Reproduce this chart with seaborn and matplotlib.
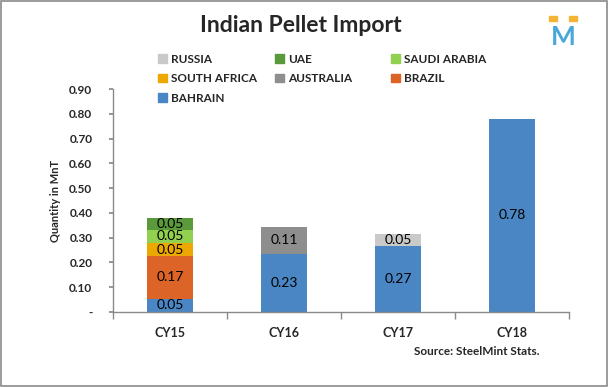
import matplotlib
matplotlib.use("Agg")
import matplotlib.pyplot as plt
import seaborn as sns
import pandas as pd
import numpy as np
from matplotlib.patches import Rectangle

# ---- data ----
years = ["CY15", "CY16", "CY17", "CY18"]
# stacking order bottom -> top
countries = ["BAHRAIN", "BRAZIL", "AUSTRALIA", "SOUTH AFRICA", "SAUDI ARABIA", "UAE", "RUSSIA"]
bahrain = [0.052, 0.234, 0.266, 0.78]
brazil = [0.174, 0.0, 0.0, 0.0]
australia = [0.0, 0.109, 0.0, 0.0]
south_africa = [0.052, 0.0, 0.0, 0.0]
saudi_arabia = [0.054, 0.0, 0.0, 0.0]
uae = [0.048, 0.0, 0.0, 0.0]
russia = [0.0, 0.0, 0.049, 0.0]
series = [bahrain, brazil, australia, south_africa, saudi_arabia, uae, russia]
colors = ["#4A86C4", "#DC6426", "#8E8E8E", "#EDA800", "#92D050", "#5A9A3A", "#C9C9C9"]
legend_order = ["RUSSIA", "UAE", "SAUDI ARABIA", "SOUTH AFRICA", "AUSTRALIA", "BRAZIL", "BAHRAIN"]
yticks = [0, 0.1, 0.2, 0.3, 0.4, 0.5, 0.6, 0.7, 0.8, 0.9]
ytick_labels = ["-", "0.10", "0.20", "0.30", "0.40", "0.50", "0.60", "0.70", "0.80", "0.90"]

sns.set_theme(style="white")
plt.rcParams["font.family"] = ["Lato", "DejaVu Sans"]

W, H = 608, 387
fig = plt.figure(figsize=(6.08, 3.87), dpi=100)
fig.patch.set_facecolor("white")
fig.patches.append(Rectangle((0.0015, 0.0025), 0.997, 0.995, transform=fig.transFigure,
                             fill=False, edgecolor="#8a8a8a", linewidth=1.2))
ax = fig.add_axes([0.186, 0.194, 0.750, 0.576])

vals = np.array(series)
cum = np.cumsum(vals, axis=0)

# draw cumulative totals from top layer down so lower layers overlay
for i in range(len(countries) - 1, -1, -1):
    df = pd.DataFrame({"year": years, "value": cum[i]})
    sns.barplot(data=df, x="year", y="value", color=colors[i], saturation=1,
                width=0.4, ax=ax, linewidth=0, order=years)

# labels
for j, yr in enumerate(years):
    for i in range(len(countries)):
        v = vals[i, j]
        if v > 0:
            ax.text(j, cum[i, j] - v / 2, f"{v:.2f}", ha="center", va="center",
                    fontsize=10, color="black")

ax.set_ylim(0, 0.9)
ax.set_xlim(-0.5, 3.5)
ax.set_yticks(yticks)
ax.set_yticklabels(ytick_labels, fontsize=8.5, fontweight="bold")
ax.set_xticks([0, 1, 2, 3])
ax.set_xticklabels(years, fontsize=9, fontweight="bold")
ax.set_xlabel("")
ax.set_ylabel("Quantity in MnT", fontsize=8, fontweight="bold", labelpad=6)

for s in ["top", "right"]:
    ax.spines[s].set_visible(False)
for s in ["left", "bottom"]:
    ax.spines[s].set_color("#8a8a8a")
    ax.spines[s].set_linewidth(1)

ax.tick_params(axis="y", which="major", length=3, color="#8a8a8a", direction="out", pad=12, left=True)
ax.tick_params(axis="x", which="major", length=0, pad=11)
ax.set_xticks([0.5, 1.5, 2.5, 3.5, -0.5], minor=True)
ax.tick_params(axis="x", which="minor", length=5, color="#8a8a8a", direction="out", bottom=True)

# legend: row-major, 3 equal-width columns -> one legend per column
ncol = 3
col_x = [153, 270, 386]
for c in range(ncol):
    names = [legend_order[k] for k in range(c, len(legend_order), ncol)]
    handles = [Rectangle((0, 0), 1, 1, color=colors[countries.index(n)]) for n in names]
    lg = fig.legend(handles, names, ncol=1, loc="upper left",
                    bbox_to_anchor=(col_x[c] / W, 1 - 49 / H), frameon=False,
                    prop={"weight": "bold", "size": 8.5},
                    handlelength=0.75, handleheight=0.75, handletextpad=0.35,
                    labelspacing=0.72, borderaxespad=0, borderpad=0.4)

fig.text(0.495, 0.935, "Indian Pellet Import", ha="center", va="center",
         fontsize=16.5, fontweight="bold")
fig.text(0.888, 0.092, "Source: SteelMint Stats.", ha="right", va="center",
         fontsize=8.5, fontweight="bold")

# logo
fig.text(0.926, 0.905, "M", ha="center", va="center", fontsize=19, fontweight="bold",
         color="#4AA8D8")
fig.patches.append(Rectangle((0.903, 0.945), 0.013, 0.014, transform=fig.transFigure,
                             color="#F4B436"))
fig.patches.append(Rectangle((0.936, 0.945), 0.013, 0.014, transform=fig.transFigure,
                             color="#F4B436"))

fig.savefig("out.png", dpi=100)
